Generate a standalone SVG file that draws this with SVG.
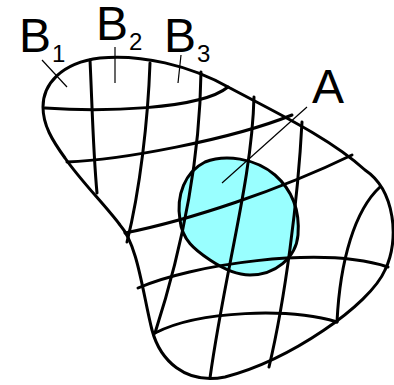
<svg xmlns="http://www.w3.org/2000/svg" width="394" height="385" viewBox="0 0 394 385">
<style>
.o{fill:none;stroke:#000;stroke-width:3;stroke-linecap:round;stroke-linejoin:round}
.g{fill:none;stroke:#000;stroke-width:3;stroke-linecap:round}
.l{fill:none;stroke:#000;stroke-width:1.2}
.blob{fill:#99ffff;stroke:#000;stroke-width:3}
.t{font-family:"Liberation Sans",Arial,sans-serif;fill:#000}
</style>
<rect width="394" height="385" fill="#fff"/>
<g id="region-A">
<path class="blob" d="M 250,275 C 235,275 222,268 210,260 C 195,250 182,240 180,220 C 176,195 185,172 205,162 C 225,154 255,158 275,175 C 292,190 300,210 298,235 C 296,258 275,275 250,275 Z"/>
</g>
<g id="connectors">
<path class="g" d="M 90,60 C 92,100 93,150 97,193"/>
<path class="g" d="M 150,63 C 148,120 140,190 127,242"/>
<path class="g" d="M 201,72 C 200,150 185,240 155,333"/>
<path class="g" d="M 254,97 C 252,180 225,270 210,378"/>
<path class="g" d="M 302,122 C 298,200 285,300 269,367"/>
<path class="g" d="M 380,187 C 355,210 340,260 337,322"/>
<path class="g" d="M 45,108 C 100,112 200,110 228,87"/>
<path class="g" d="M 67,162 C 120,160 230,140 292,115"/>
<path class="g" d="M 125,233 C 190,220 280,190 352,155"/>
<path class="g" d="M 138,288 C 190,265 320,245 388,267"/>
<path class="g" d="M 155,333 C 200,310 290,308 337,322"/>
<line class="l" x1="42" y1="60" x2="67" y2="87"/>
<line class="l" x1="115" y1="47" x2="115" y2="83"/>
<line class="l" x1="181" y1="55" x2="178" y2="83"/>
<line class="l" x1="307" y1="107" x2="222" y2="183"/>
</g>
<g id="region-B">
<path class="o" d="M 43,107 C 43,85 60,63 100,58 C 140,54 190,65 230,88 C 275,112 330,138 365,170 C 395,190 400,240 385,270 C 370,305 290,360 225,377 C 185,385 160,360 152,330 C 143,295 138,245 120,225 C 105,205 80,180 65,158 C 52,140 43,125 43,107 Z"/>
</g>
<g id="label-B1"><text class="t" x="19" y="52" font-size="48">B</text><text class="t" x="52" y="62" font-size="24">1</text></g>
<g id="label-B2"><text class="t" x="96" y="40" font-size="48">B</text><text class="t" x="129" y="50" font-size="24">2</text></g>
<g id="label-B3"><text class="t" x="164" y="52" font-size="48">B</text><text class="t" x="197" y="62" font-size="24">3</text></g>
<g id="label-A"><text class="t" x="312" y="103" font-size="48">A</text></g>
</svg>
